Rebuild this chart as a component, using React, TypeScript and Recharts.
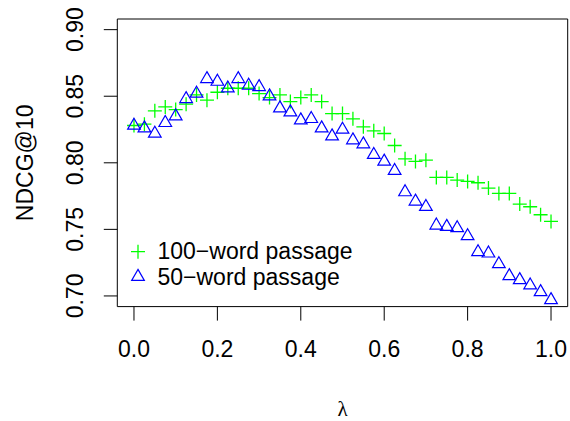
import {
  Label,
  ReferenceArea,
  Scatter,
  ScatterChart,
  XAxis,
  YAxis,
} from "recharts";

const lambdas = [
  0, 0.025, 0.05, 0.075, 0.1, 0.125, 0.15, 0.175, 0.2, 0.225, 0.25, 0.275,
  0.3, 0.325, 0.35, 0.375, 0.4, 0.425, 0.45, 0.475, 0.5, 0.525, 0.55, 0.575,
  0.6, 0.625, 0.65, 0.675, 0.7, 0.725, 0.75, 0.775, 0.8, 0.825, 0.85, 0.875,
  0.9, 0.925, 0.95, 0.975, 1,
];

const ndcg100 = [
  0.828, 0.829, 0.839, 0.842, 0.84, 0.844, 0.851, 0.847, 0.853, 0.856, 0.856,
  0.856, 0.852, 0.849, 0.851, 0.846, 0.849, 0.851, 0.846, 0.837, 0.837, 0.833,
  0.827, 0.824, 0.822, 0.813, 0.803, 0.801, 0.802, 0.789, 0.789, 0.787, 0.786,
  0.785, 0.781, 0.777, 0.777, 0.769, 0.767, 0.761, 0.756,
];

const ndcg50 = [
  0.828, 0.826, 0.822, 0.83, 0.835, 0.848, 0.852, 0.863, 0.861, 0.856, 0.863,
  0.858, 0.857, 0.85, 0.841, 0.838, 0.832, 0.833, 0.826, 0.82, 0.825, 0.817,
  0.814, 0.806, 0.801, 0.794, 0.778, 0.771, 0.767, 0.753, 0.752, 0.751, 0.745,
  0.733, 0.732, 0.724, 0.715, 0.712, 0.708, 0.703, 0.697,
];

const xTicks = [0, 0.2, 0.4, 0.6, 0.8, 1];
const yTicks = [0.7, 0.75, 0.8, 0.85, 0.9];
const legendLabels = ["100\u2212word passage", "50\u2212word passage"];

const FONT = "'Liberation Sans', Arial, Helvetica, sans-serif";
const GREEN = "#00ff00";
const BLUE = "#0000ff";

const data100 = lambdas.map((x, i) => ({ x, y: ndcg100[i] }));
const data50 = lambdas.map((x, i) => ({ x, y: ndcg50[i] }));

function Plus({ cx, cy }: { cx: number; cy: number }) {
  const r = 7;
  return (
    <path
      d={`M${cx - r},${cy}H${cx + r}M${cx},${cy - r}V${cy + r}`}
      stroke={GREEN}
      strokeWidth={1.3}
      fill="none"
    />
  );
}

function Triangle({ cx, cy }: { cx: number; cy: number }) {
  const xc = 4.7;
  const top = cy - 1.555 * xc;
  const bot = cy + 0.778 * xc;
  const h = 1.347 * xc;
  return (
    <path
      d={`M${cx},${top}L${cx + h},${bot}L${cx - h},${bot}Z`}
      stroke={BLUE}
      strokeWidth={1.2}
      fill="none"
    />
  );
}

function XTick(props: any) {
  const { x, y, payload } = props;
  return (
    <text x={x} y={y + 36.7} textAnchor="middle" fontSize={23} fontFamily={FONT} fill="#000">
      {Number(payload.value).toFixed(1)}
    </text>
  );
}

function YTick(props: any) {
  const { x, y, payload } = props;
  const tx = x - 20.5;
  return (
    <text
      x={tx}
      y={y}
      transform={`rotate(-90, ${tx}, ${y})`}
      textAnchor="middle"
      fontSize={23}
      fontFamily={FONT}
      fill="#000"
    >
      {Number(payload.value).toFixed(2)}
    </text>
  );
}

export default function App() {
  return (
    <div style={{ position: "absolute", left: 0, top: 0, width: 570, height: 421, background: "#fff" }}>
      <ScatterChart
        width={570}
        height={421}
        margin={{ top: 19, right: 2.3, bottom: 0, left: 0 }}
      >
        <XAxis
          type="number"
          dataKey="x"
          domain={[-0.04, 1.04]}
          ticks={xTicks}
          allowDataOverflow
          height={114.4}
          axisLine={false}
          tickLine={{ stroke: "#000" }}
          tickSize={14}
          tickMargin={0}
          tick={<XTick />}
        >
          <Label
            content={(p: any) => {
              const vb = p.viewBox;
              return (
                <text
                  x={vb.x + vb.width / 2}
                  y={416}
                  textAnchor="middle"
                  fontSize={21}
                  fontFamily="'Liberation Serif', 'DejaVu Serif', serif"
                  fill="#000"
                >
                  λ
                </text>
              );
            }}
          />
        </XAxis>
        <YAxis
          type="number"
          dataKey="y"
          domain={[0.692, 0.908]}
          ticks={yTicks}
          allowDataOverflow
          width={117.3}
          axisLine={false}
          tickLine={{ stroke: "#000" }}
          tickSize={13.5}
          tickMargin={0}
          tick={<YTick />}
        >
          <Label
            content={(p: any) => {
              const vb = p.viewBox;
              const cy = vb.y + vb.height / 2;
              return (
                <text
                  x={33}
                  y={cy}
                  transform={`rotate(-90, 33, ${cy})`}
                  textAnchor="middle"
                  fontSize={23}
                  fontFamily={FONT}
                  fill="#000"
                >
                  NDCG@10
                </text>
              );
            }}
          />
        </YAxis>
        <ReferenceArea
          x1={-0.04}
          x2={1.04}
          y1={0.692}
          y2={0.908}
          fill="none"
          stroke="#000"
          strokeWidth={1}
          ifOverflow="visible"
        />
        <Scatter
          data={data100}
          isAnimationActive={false}
          shape={(p: any) => <Plus cx={p.cx} cy={p.cy} />}
        />
        <Scatter
          data={data50}
          isAnimationActive={false}
          shape={(p: any) => <Triangle cx={p.cx} cy={p.cy} />}
        />
      </ScatterChart>
      <svg
        width={570}
        height={421}
        style={{ position: "absolute", left: 0, top: 0, pointerEvents: "none" }}
      >
        <Plus cx={138} cy={251.7} />
        <Triangle cx={138} cy={276.7} />
        <text x={157.5} y={259.3} fontSize={23} fontFamily={FONT} fill="#000">
          {legendLabels[0]}
        </text>
        <text x={157.5} y={285} fontSize={23} fontFamily={FONT} fill="#000">
          {legendLabels[1]}
        </text>
      </svg>
    </div>
  );
}
